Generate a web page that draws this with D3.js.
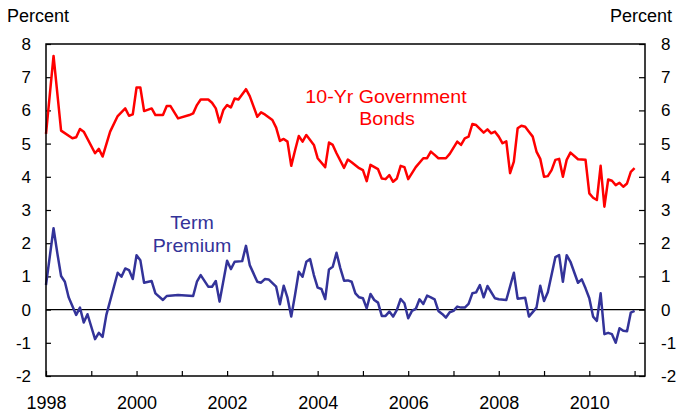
<!DOCTYPE html>
<html><head><meta charset="utf-8">
<script src="https://cdn.jsdelivr.net/npm/d3@7"></script>
<style>
body{margin:0;background:#fff}
svg{display:block}
text{font-family:"Liberation Sans",Arial,Helvetica,sans-serif;fill:#000}
</style>
</head><body>
<svg id="chart" width="684" height="418"></svg>
<script>
// ---- data (months counted from Jan 1998) ----
const yTickValues = [-2,-1,0,1,2,3,4,5,6,7,8];
const xTickYears = [1998,1999,2000,2001,2002,2003,2004,2005,2006,2007,2008,2009,2010,2011];
const xTickLabels = ["1998","","2000","","2002","","2004","","2006","","2008","","2010",""];

const bondMonths = [0,2,4,7,8,9,10,13,14,15,17,19,21,22,23,24,25,26,28,29,31,32,33,35,38,39,40,41,43,44,45,46,47,48,49,50,51,53,54,56,57,58,60,61,62,63,64,65,66,67,68,69,71,72,74,75,76,77,79,80,81,83,84,85,86,88,89,90,91,92,93,94,95,96,98,100,101,102,103,104,106,107,109,110,111,112,113,114,116,117,118,119,120,121,122,123,124,125,126,127,128,129,130,131,132,133,134,135,136,137,138,139,141,143,144,145,146,147,148,149,150,151,152,153,154,155,156];
const bondValues = [5.29,7.64,5.39,5.16,5.19,5.44,5.36,4.71,4.84,4.61,5.36,5.83,6.06,5.84,5.88,6.69,6.69,5.98,6.06,5.86,5.86,6.13,6.13,5.76,5.86,5.91,6.16,6.33,6.33,6.23,6.06,5.64,6.01,6.16,6.09,6.36,6.33,6.64,6.43,5.81,5.94,5.88,5.71,5.48,5.08,5.14,5.06,4.33,4.79,5.23,5.06,5.26,4.96,4.56,4.29,5.03,4.96,4.71,4.27,4.52,4.44,4.26,4.20,3.87,4.36,4.23,3.95,3.93,4.05,3.85,3.95,4.33,4.29,3.93,4.29,4.56,4.56,4.76,4.66,4.56,4.56,4.69,5.06,4.96,5.16,5.21,5.59,5.56,5.33,5.43,5.31,5.36,5.21,5.01,5.07,4.11,4.46,5.46,5.54,5.51,5.36,5.21,4.76,4.54,4.00,4.02,4.20,4.51,4.54,4.00,4.51,4.73,4.53,4.51,3.50,3.37,3.30,4.33,3.10,3.92,3.88,3.75,3.82,3.70,3.80,4.15,4.26];

const premiumMonths = [0,2,3,4,5,6,8,9,10,11,13,14,15,16,19,20,21,22,23,24,25,26,28,29,31,32,35,39,40,41,43,44,45,46,48,49,50,52,53,54,56,57,58,59,61,62,63,64,65,66,67,68,69,70,71,72,73,74,75,76,77,78,79,80,81,82,83,84,85,86,87,88,89,90,91,92,93,94,95,96,97,98,99,100,101,102,103,104,105,106,107,108,109,110,111,112,113,114,115,116,117,119,120,122,124,125,127,128,130,131,132,133,135,136,137,138,139,141,142,143,144,145,146,147,148,149,150,151,152,153,154,155,156];
const premiumValues = [0.74,2.45,1.70,1.01,0.84,0.37,-0.16,0.06,-0.39,-0.14,-0.89,-0.70,-0.82,-0.16,1.11,0.99,1.24,1.19,0.92,1.64,1.49,0.81,0.86,0.49,0.29,0.41,0.44,0.41,0.84,1.04,0.69,0.69,0.86,0.24,1.47,1.22,1.44,1.46,1.92,1.34,0.84,0.81,0.92,0.91,0.69,0.16,0.72,0.36,-0.21,0.44,1.14,0.99,1.44,1.52,1.04,0.66,0.62,0.32,1.21,1.29,1.71,1.25,0.87,0.88,0.84,0.49,0.37,0.34,0.04,0.47,0.29,0.21,-0.19,-0.19,-0.06,-0.21,-0.01,0.32,0.19,-0.26,-0.04,0.02,0.31,0.17,0.42,0.37,0.31,-0.04,-0.13,-0.24,-0.08,-0.04,0.09,0.06,0.06,0.17,0.49,0.52,0.74,0.37,0.71,0.34,0.31,0.29,1.11,0.33,0.36,-0.21,0.06,0.72,0.26,0.52,1.58,1.64,0.84,1.64,1.44,0.81,0.91,0.64,0.34,-0.21,-0.34,0.49,-0.74,-0.70,-0.74,-1.00,-0.56,-0.64,-0.65,-0.09,-0.04];

const seriesColors = {bond:"#ff0000", premium:"#333399"};

// ---- layout ----
const plot = {left:46, right:645, top:44, bottom:376};
const svg = d3.select("#chart");

const x = d3.scaleLinear().domain([1998, 2011.23]).range([plot.left, plot.right]);
const y = d3.scaleLinear().domain([-2, 8]).range([plot.bottom, plot.top]);
const mx = m => x(1998 + m/12);
const fmt = d => String(d);   // plain hyphen minus like the reference

// axes
const left = svg.append("g").attr("transform",`translate(${plot.left},0)`)
  .call(d3.axisLeft(y).tickValues(yTickValues).tickFormat(fmt).tickSizeInner(-5).tickSizeOuter(0).tickPadding(15));
const right = svg.append("g").attr("transform",`translate(${plot.right},0)`)
  .call(d3.axisRight(y).tickValues(yTickValues).tickFormat(fmt).tickSizeInner(-6).tickSizeOuter(0).tickPadding(16));
const bottom = svg.append("g").attr("transform",`translate(0,${plot.bottom})`)
  .call(d3.axisBottom(x).tickValues(xTickYears).tickFormat((d,i)=>xTickLabels[i]).tickSizeInner(-5).tickSizeOuter(0).tickPadding(20));

[left,right,bottom].forEach(g=>{
  g.select(".domain").remove();
  g.selectAll(".tick line").attr("stroke","#000").attr("stroke-width",1.2);
  g.selectAll(".tick text").attr("font-size",17).attr("fill","#000")
    .attr("font-family",'"Liberation Sans",Arial,sans-serif');
});
bottom.selectAll(".tick text").attr("font-size",18);

// zero line
svg.append("line").attr("x1",plot.left).attr("x2",plot.right)
  .attr("y1",y(0)).attr("y2",y(0)).attr("stroke","#000").attr("stroke-width",1.2);

// lines
const lineGen = (months, vals) => d3.line().x((d,i)=>mx(months[i])).y((d,i)=>y(vals[i]))(vals);
svg.append("path").attr("d",lineGen(premiumMonths,premiumValues))
  .attr("fill","none").attr("stroke",seriesColors.premium).attr("stroke-width",2.5).attr("stroke-linejoin","round");
svg.append("path").attr("d",lineGen(bondMonths,bondValues))
  .attr("fill","none").attr("stroke",seriesColors.bond).attr("stroke-width",2.5).attr("stroke-linejoin","round");

// frame
svg.append("rect").attr("x",plot.left).attr("y",plot.top)
  .attr("width",plot.right-plot.left).attr("height",plot.bottom-plot.top)
  .attr("fill","none").attr("stroke","#000").attr("stroke-width",1.5);

// titles
svg.append("text").attr("x",7).attr("y",22).attr("font-size",18).text("Percent");
svg.append("text").attr("x",672).attr("y",22).attr("font-size",18).attr("text-anchor","end").text("Percent");

// series labels (slightly wide, like the reference)
const lab = (t,cx,by,c)=>svg.append("text")
  .attr("transform",`translate(${cx},${by}) scale(1.09,1)`)
  .attr("text-anchor","middle").attr("font-size",18).style("fill",c).text(t);
lab("10-Yr Government",386,103,seriesColors.bond);
lab("Bonds",387,125,seriesColors.bond);
lab("Term",192,229,seriesColors.premium);
lab("Premium",192,252,seriesColors.premium);
</script>
</body></html>
